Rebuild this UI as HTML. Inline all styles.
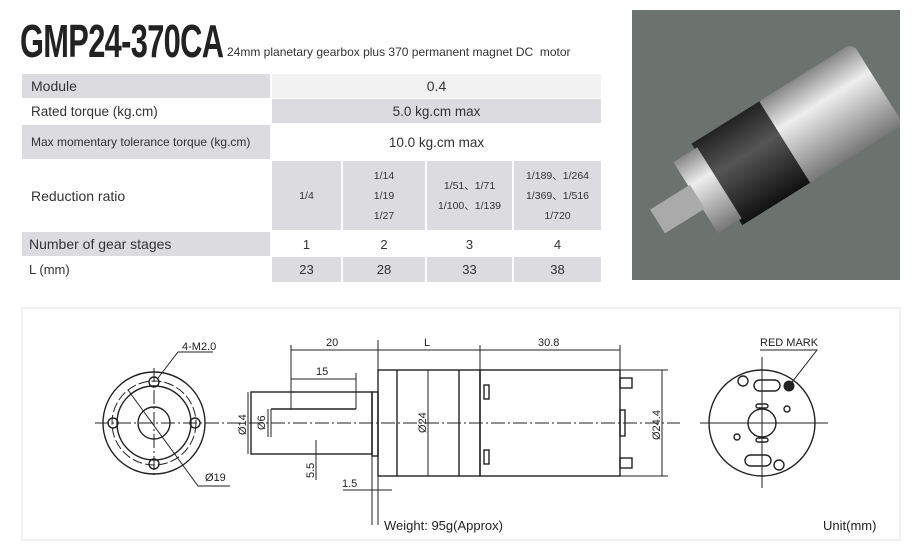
<!DOCTYPE html>
<html><head><meta charset="utf-8"><style>
body{margin:0;width:921px;height:549px;background:#fff;position:relative;overflow:hidden;font-family:"Liberation Sans",sans-serif;color:#333}
.a{position:absolute}
.g{background:#dcdbe0}
.c{display:flex;align-items:center;justify-content:center;text-align:center}
.l{display:flex;align-items:center;padding-left:9px;box-sizing:border-box}
</style></head><body>
<div class="a" style="left:20px;top:14px;font-size:46px;font-weight:bold;color:#222;font-family:'Liberation Sans Narrow','Liberation Sans',sans-serif;transform:scaleX(0.67);transform-origin:left top;letter-spacing:-1px">GMP24-370CA</div>
<div class="a" style="left:227px;top:45px;font-size:12px;color:#333">24mm planetary gearbox plus 370 permanent magnet DC&nbsp; motor</div>

<div class="a g l" style="left:22px;top:74px;width:248px;height:24px;font-size:14px">Module</div>
<div class="a c" style="left:272px;top:74px;width:329px;height:24px;font-size:14px;background:#f2f2f2">0.4</div>
<div class="a l" style="left:22px;top:99px;width:248px;height:24px;font-size:13.5px">Rated torque (kg.cm)</div>
<div class="a g c" style="left:272px;top:99px;width:329px;height:24px;font-size:13.5px">5.0 kg.cm max</div>
<div class="a g l" style="left:22px;top:125px;width:248px;height:34px;font-size:12px">Max momentary tolerance torque (kg.cm)</div>
<div class="a c" style="left:272px;top:125px;width:329px;height:34px;font-size:13.5px">10.0 kg.cm max</div>
<div class="a l" style="left:22px;top:161px;width:248px;height:69px;font-size:14px">Reduction ratio</div>
<div class="a g c" style="left:272px;top:161px;width:69px;height:69px;font-size:10.5px">1/4</div>
<div class="a g c" style="left:343px;top:161px;width:82px;height:69px;font-size:10.5px;line-height:20px">1/14<br>1/19<br>1/27</div>
<div class="a g c" style="left:427px;top:161px;width:85px;height:69px;font-size:10.5px;line-height:20px">1/51、1/71<br>1/100、1/139</div>
<div class="a g c" style="left:514px;top:161px;width:87px;height:69px;font-size:10.5px;line-height:20px">1/189、1/264<br>1/369、1/516<br>1/720</div>
<div class="a g l" style="left:22px;top:232px;width:248px;height:24px;font-size:14px;padding-left:7px">Number of gear stages</div>
<div class="a c" style="left:272px;top:232px;width:69px;height:24px;font-size:13px">1</div>
<div class="a c" style="left:343px;top:232px;width:82px;height:24px;font-size:13px">2</div>
<div class="a c" style="left:427px;top:232px;width:85px;height:24px;font-size:13px">3</div>
<div class="a c" style="left:514px;top:232px;width:87px;height:24px;font-size:13px">4</div>
<div class="a l" style="left:22px;top:257px;width:248px;height:25px;font-size:13px;padding-left:7px">L (mm)</div>
<div class="a g c" style="left:272px;top:257px;width:69px;height:25px;font-size:13px">23</div>
<div class="a g c" style="left:343px;top:257px;width:82px;height:25px;font-size:13px">28</div>
<div class="a g c" style="left:427px;top:257px;width:85px;height:25px;font-size:13px">33</div>
<div class="a g c" style="left:514px;top:257px;width:87px;height:25px;font-size:13px">38</div>

<svg class="a" style="left:632px;top:10px" width="268" height="270">
<defs><linearGradient id="m" x1="0" y1="0" x2="0" y2="1"><stop offset="0" stop-color="#888"/><stop offset=".35" stop-color="#eee"/><stop offset="1" stop-color="#777"/></linearGradient>
<linearGradient id="b" x1="0" y1="0" x2="0" y2="1"><stop offset="0" stop-color="#222"/><stop offset=".4" stop-color="#555"/><stop offset="1" stop-color="#111"/></linearGradient></defs>
<rect width="268" height="270" fill="#6c736f"/>
<g transform="rotate(-32 140 140)">
<rect x="150" y="92" width="115" height="96" rx="8" fill="url(#m)"/>
<rect x="75" y="92" width="80" height="96" fill="url(#b)"/>
<rect x="50" y="98" width="28" height="84" fill="url(#m)"/>
<rect x="5" y="126" width="47" height="28" fill="#aaa"/>
</g></svg>

<svg class="a" style="left:0;top:0" width="921" height="549" font-family="Liberation Sans Narrow, Liberation Sans, sans-serif" font-size="11" fill="none" stroke="#222" stroke-width="1">
<rect x="22" y="308" width="878" height="232" stroke="#e6e6e6"/>
<line x1="95" y1="423" x2="680" y2="423" stroke-dasharray="14 3 2 3"/>
<line x1="154" y1="368" x2="154" y2="478" stroke-dasharray="14 3 2 3"/>
<g stroke-width="1.4">
<circle cx="154" cy="423" r="51"/><circle cx="154" cy="423" r="37"/><circle cx="154" cy="423" r="16"/>
<circle cx="154" cy="382" r="5"/><circle cx="154" cy="464" r="5"/><circle cx="113" cy="423" r="5"/><circle cx="195" cy="423" r="5"/>
</g>
<circle cx="154" cy="423" r="42" stroke-dasharray="10 3"/>
<polyline points="158,378 178,352 213,352"/><text x="182" y="350" fill="#222" stroke="none">4-M2.0</text>
<polyline points="128,390 198,486 230,486"/><text x="205" y="481" fill="#222" stroke="none">Ø19</text>
<g stroke-width="1.4">
<rect x="251" y="392" width="121" height="62"/>
<rect x="372" y="392" width="6" height="64"/>
<rect x="378" y="370" width="102" height="106"/>
<line x1="397" y1="370" x2="397" y2="476"/><line x1="459" y1="370" x2="459" y2="476"/>
<rect x="480" y="370" width="140" height="106"/>
<rect x="620" y="378" width="12" height="10"/><rect x="620" y="458" width="12" height="10"/>
<rect x="484" y="385" width="5" height="14"/><rect x="484" y="450" width="5" height="14"/>
<rect x="620" y="410" width="5" height="26"/>
<line x1="271" y1="409" x2="356" y2="409"/>
</g>
<line x1="271" y1="409" x2="271" y2="437"/>
<line x1="428" y1="370" x2="428" y2="476"/>
<line x1="291" y1="345" x2="291" y2="409"/><line x1="378" y1="340" x2="378" y2="525"/><line x1="480" y1="345" x2="480" y2="370"/><line x1="620" y1="345" x2="620" y2="370"/>
<line x1="291" y1="350" x2="620" y2="350"/>
<text x="326" y="346" fill="#222" stroke="none">20</text><text x="424" y="346" fill="#222" stroke="none">L</text><text x="538" y="346" fill="#222" stroke="none">30.8</text>
<line x1="291" y1="379" x2="356" y2="379"/><line x1="356" y1="373" x2="356" y2="409"/><text x="316" y="375" fill="#222" stroke="none">15</text>
<line x1="248" y1="392" x2="248" y2="454"/><text x="0" y="0" transform="translate(246,435) rotate(-90)" fill="#222" stroke="none">Ø14</text>
<line x1="268" y1="409" x2="268" y2="437"/><text x="0" y="0" transform="translate(265,430) rotate(-90)" fill="#222" stroke="none">Ø6</text>
<text x="0" y="0" transform="translate(426,433) rotate(-90)" fill="#222" stroke="none">Ø24</text>
<line x1="620" y1="370" x2="668" y2="370"/><line x1="620" y1="476" x2="668" y2="476"/><line x1="662" y1="370" x2="662" y2="476"/>
<text x="0" y="0" transform="translate(660,440) rotate(-90)" fill="#222" stroke="none">Ø24.4</text>
<line x1="316" y1="440" x2="316" y2="480"/><text x="0" y="0" transform="translate(314,478) rotate(-90)" fill="#222" stroke="none">5.5</text>
<line x1="343" y1="490" x2="392" y2="490"/><line x1="372" y1="456" x2="372" y2="525"/><text x="342" y="487" fill="#222" stroke="none">1.5</text>
<line x1="762" y1="357" x2="762" y2="488"/><line x1="700" y1="423" x2="828" y2="423"/>
<g stroke-width="1.4">
<circle cx="762" cy="423" r="53"/><circle cx="762" cy="423" r="14"/>
<rect x="754" y="380" width="26" height="11" rx="5.5"/><rect x="745" y="455" width="26" height="11" rx="5.5"/>
<circle cx="743" cy="381" r="5"/><circle cx="779" cy="465" r="5"/><circle cx="787" cy="409" r="3"/><circle cx="737" cy="437" r="3"/>
<rect x="756" y="404" width="12" height="4" rx="2"/><rect x="756" y="438" width="12" height="4" rx="2"/>
</g>
<circle cx="789" cy="386" r="5" fill="#222"/>
<polyline points="789,386 817,350 760,350"/><text x="760" y="346" fill="#222" stroke="none">RED MARK</text>
</svg>
<div class="a" style="left:384px;top:518px;font-size:13px;color:#222">Weight: 95g(Approx)</div>
<div class="a" style="left:823px;top:518px;font-size:13px;color:#222">Unit(mm)</div>
</body></html>
